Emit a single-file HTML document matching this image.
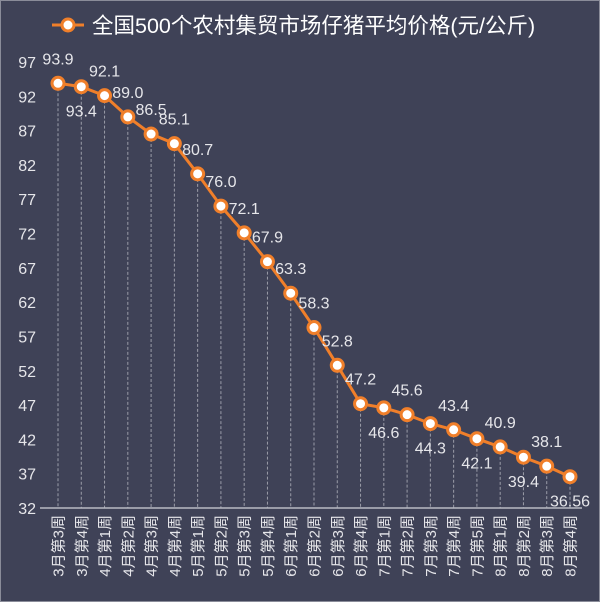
<!DOCTYPE html>
<html><head><meta charset="utf-8"><style>
html,body{margin:0;padding:0;background:#3f4257;}
svg{display:block;font-family:"Liberation Sans","Noto Sans CJK SC",sans-serif;}
</style></head><body>
<svg width="600" height="602" viewBox="0 0 600 602">
<rect x="0.5" y="0.5" width="599" height="601" fill="#3f4257" stroke="#8a8c99"/>
<g>
<line x1="52" y1="25" x2="84" y2="25" stroke="#f07f2a" stroke-width="3"/>
<circle cx="68" cy="25" r="6" fill="#fff" stroke="#f07f2a" stroke-width="3"/>
<text x="92" y="33" fill="#ffffff" font-size="21.5">全国500个农村集贸市场仔猪平均价格(元/公斤)</text>
</g>
<g id="yaxis"></g>
<g id="drops"></g>
<line x1="40" y1="508" x2="582" y2="508" stroke="#b8bac4" stroke-width="1.5"/>
<g id="xaxis"></g>
<g id="series"></g>
<g id="labels"></g>
</svg>
<script>
const categories = ["3月第3周","3月第4周","4月第1周","4月第2周","4月第3周","4月第4周","5月第1周","5月第2周","5月第3周","5月第4周","6月第1周","6月第2周","6月第3周","6月第4周","7月第1周","7月第2周","7月第3周","7月第4周","7月第5周","8月第1周","8月第2周","8月第3周","8月第4周"];
const values = [93.9,93.4,92.1,89.0,86.5,85.1,80.7,76.0,72.1,67.9,63.3,58.3,52.8,47.2,46.6,45.6,44.3,43.4,42.1,40.9,39.4,38.1,36.56];
const valueLabels = ["93.9","93.4","92.1","89.0","86.5","85.1","80.7","76.0","72.1","67.9","63.3","58.3","52.8","47.2","46.6","45.6","44.3","43.4","42.1","40.9","39.4","38.1","36.56"];
const labelSide = ["a","b","a","a","a","a","a","a","a","a","a","a","a","a","b","a","b","a","b","a","b","a","b"];
const yTicks = [32,37,42,47,52,57,62,67,72,77,82,87,92,97];

const NS="http://www.w3.org/2000/svg";
const yMin=32,yMax=97,y0=508,y1=62,xFirst=58,xLast=570;
function yScale(v){return y0-(v-yMin)/(yMax-yMin)*(y0-y1);}
function xScale(i){return xFirst+i*(xLast-xFirst)/(categories.length-1);}
function mk(tag,attrs,parent){const e=document.createElementNS(NS,tag);for(const k in attrs)e.setAttribute(k,attrs[k]);parent.appendChild(e);return e;}

const ya=document.getElementById('yaxis');
yTicks.forEach(t=>{
  const e=mk('text',{x:36,y:yScale(t)+6,'text-anchor':'end',fill:'#e6e6ea','font-size':16},ya);
  
  
  e.textContent=t;
});
const xa=document.getElementById('xaxis');
const dr=document.getElementById('drops');
categories.forEach((c,i)=>{
  const x=xScale(i);
  const e=mk('text',{x:0,y:0,transform:`translate(${x+5.5},515) rotate(-90)`,'text-anchor':'end',fill:'#e6e6ea','font-size':15},xa);
  
  
  e.textContent=c;
  const d=mk('line',{x1:x,y1:yScale(values[i]),x2:x,y2:508,stroke:'#9a9ca8','stroke-width':1,'stroke-dasharray':'3,2'},dr);
  
  
});
const se=document.getElementById('series');
const pts=values.map((v,i)=>xScale(i)+','+yScale(v)).join(' ');
const pl=mk('polyline',{points:pts,fill:'none',stroke:'#f07f2a','stroke-width':3},se);


const lb=document.getElementById('labels');
values.forEach((v,i)=>{
  const x=xScale(i),y=yScale(v);
  const c=mk('circle',{cx:x,cy:y,r:6,fill:'#fff',stroke:'#f07f2a','stroke-width':3},se);
  
  
  let lx=x,ly=y;
  if(labelSide[i]==='a'){ly=y-25;}
  else {ly=y+24;}
  const t=mk('text',{x:lx,y:ly+6,'text-anchor':'middle',fill:'#e6e6ea','font-size':16},lb);
  
  
  t.textContent=valueLabels[i];
});
</script>
</body></html>
